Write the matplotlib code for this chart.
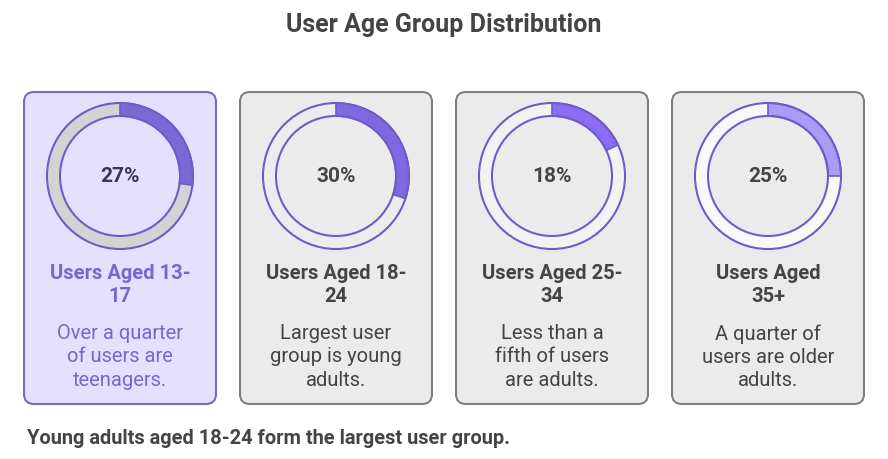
import matplotlib.pyplot as plt
from matplotlib.patches import FancyBboxPatch, Wedge, Circle

plt.rcParams['font.family'] = ['Roboto', 'DejaVu Sans']

titulo = "User Age Group Distribution"
porcentajes = [27, 30, 18, 25]
encabezados = ["Users Aged 13-\n17", "Users Aged 18-\n24", "Users Aged 25-\n34", "Users Aged\n35+"]
descripciones = [
    "Over a quarter\nof users are\nteenagers.",
    "Largest user\ngroup is young\nadults.",
    "Less than a\nfifth of users\nare adults.",
    "A quarter of\nusers are older\nadults.",
]
nota = "Young adults aged 18-24 form the largest user group."

color_lleno = ["#7a68d4", "#7f68e2", "#8b6cf4", "#a99cf6"]
color_resto = ["#d3d3d3", "#ececec", "#f2f2f2", "#f8f8f8"]
fondo = ["#e5e0ff", "#ebebeb", "#ebebeb", "#ebebeb"]
borde = ["#7b68c8", "#7f7f7f", "#7f7f7f", "#7f7f7f"]
texto = ["#7a66cc", "#444444", "#444444", "#444444"]
texto_pct = ["#3b3650", "#444444", "#444444", "#444444"]

fig = plt.figure(figsize=(8.88, 4.59), dpi=100)
ax = fig.add_axes([0, 0, 1, 1])
ax.set_xlim(0, 888)
ax.set_ylim(459, 0)  # eje y hacia abajo, como en pixeles
ax.axis("off")

ax.text(444, 25, titulo, ha="center", va="center", fontsize=18,
        fontweight="bold", color="#444444")

for i, pct in enumerate(porcentajes):
    x0 = 24 + i * 216
    cx = x0 + 96
    cy = 176
    ax.add_patch(FancyBboxPatch((x0, 92), 192, 312,
                                boxstyle="round,pad=0,rounding_size=10",
                                facecolor=fondo[i], edgecolor=borde[i], linewidth=1.5))
    # anillo: con y invertido, angulos crecientes van en sentido horario
    r_ext, ancho = 73, 13
    fin = -90 + pct * 3.6
    ax.add_patch(Wedge((cx, cy), r_ext, fin, 270, width=ancho,
                       facecolor=color_resto[i], edgecolor="none"))
    ax.add_patch(Wedge((cx, cy), r_ext, -90, fin, width=ancho,
                       facecolor=color_lleno[i], edgecolor="#6f5cc8", linewidth=1.2))
    ax.add_patch(Circle((cx, cy), r_ext, fill=False, edgecolor="#6f5cc8", linewidth=1.5))
    ax.add_patch(Circle((cx, cy), r_ext - ancho, fill=False, edgecolor="#6f5cc8", linewidth=1.5))
    ax.text(cx, cy, f"{pct}%", ha="center", va="center", fontsize=15,
            fontweight="bold", color=texto_pct[i])
    ax.text(cx, 285, encabezados[i], ha="center", va="center", fontsize=14.5,
            fontweight="bold", color=texto[i], linespacing=1.27)
    ax.text(cx, 357, descripciones[i], ha="center", va="center", fontsize=14.5,
            color=texto[i], linespacing=1.27)

ax.text(27, 439, nota, ha="left", va="center", fontsize=14.4,
        fontweight="bold", color="#444444")

fig.savefig("out.png", dpi=100)
